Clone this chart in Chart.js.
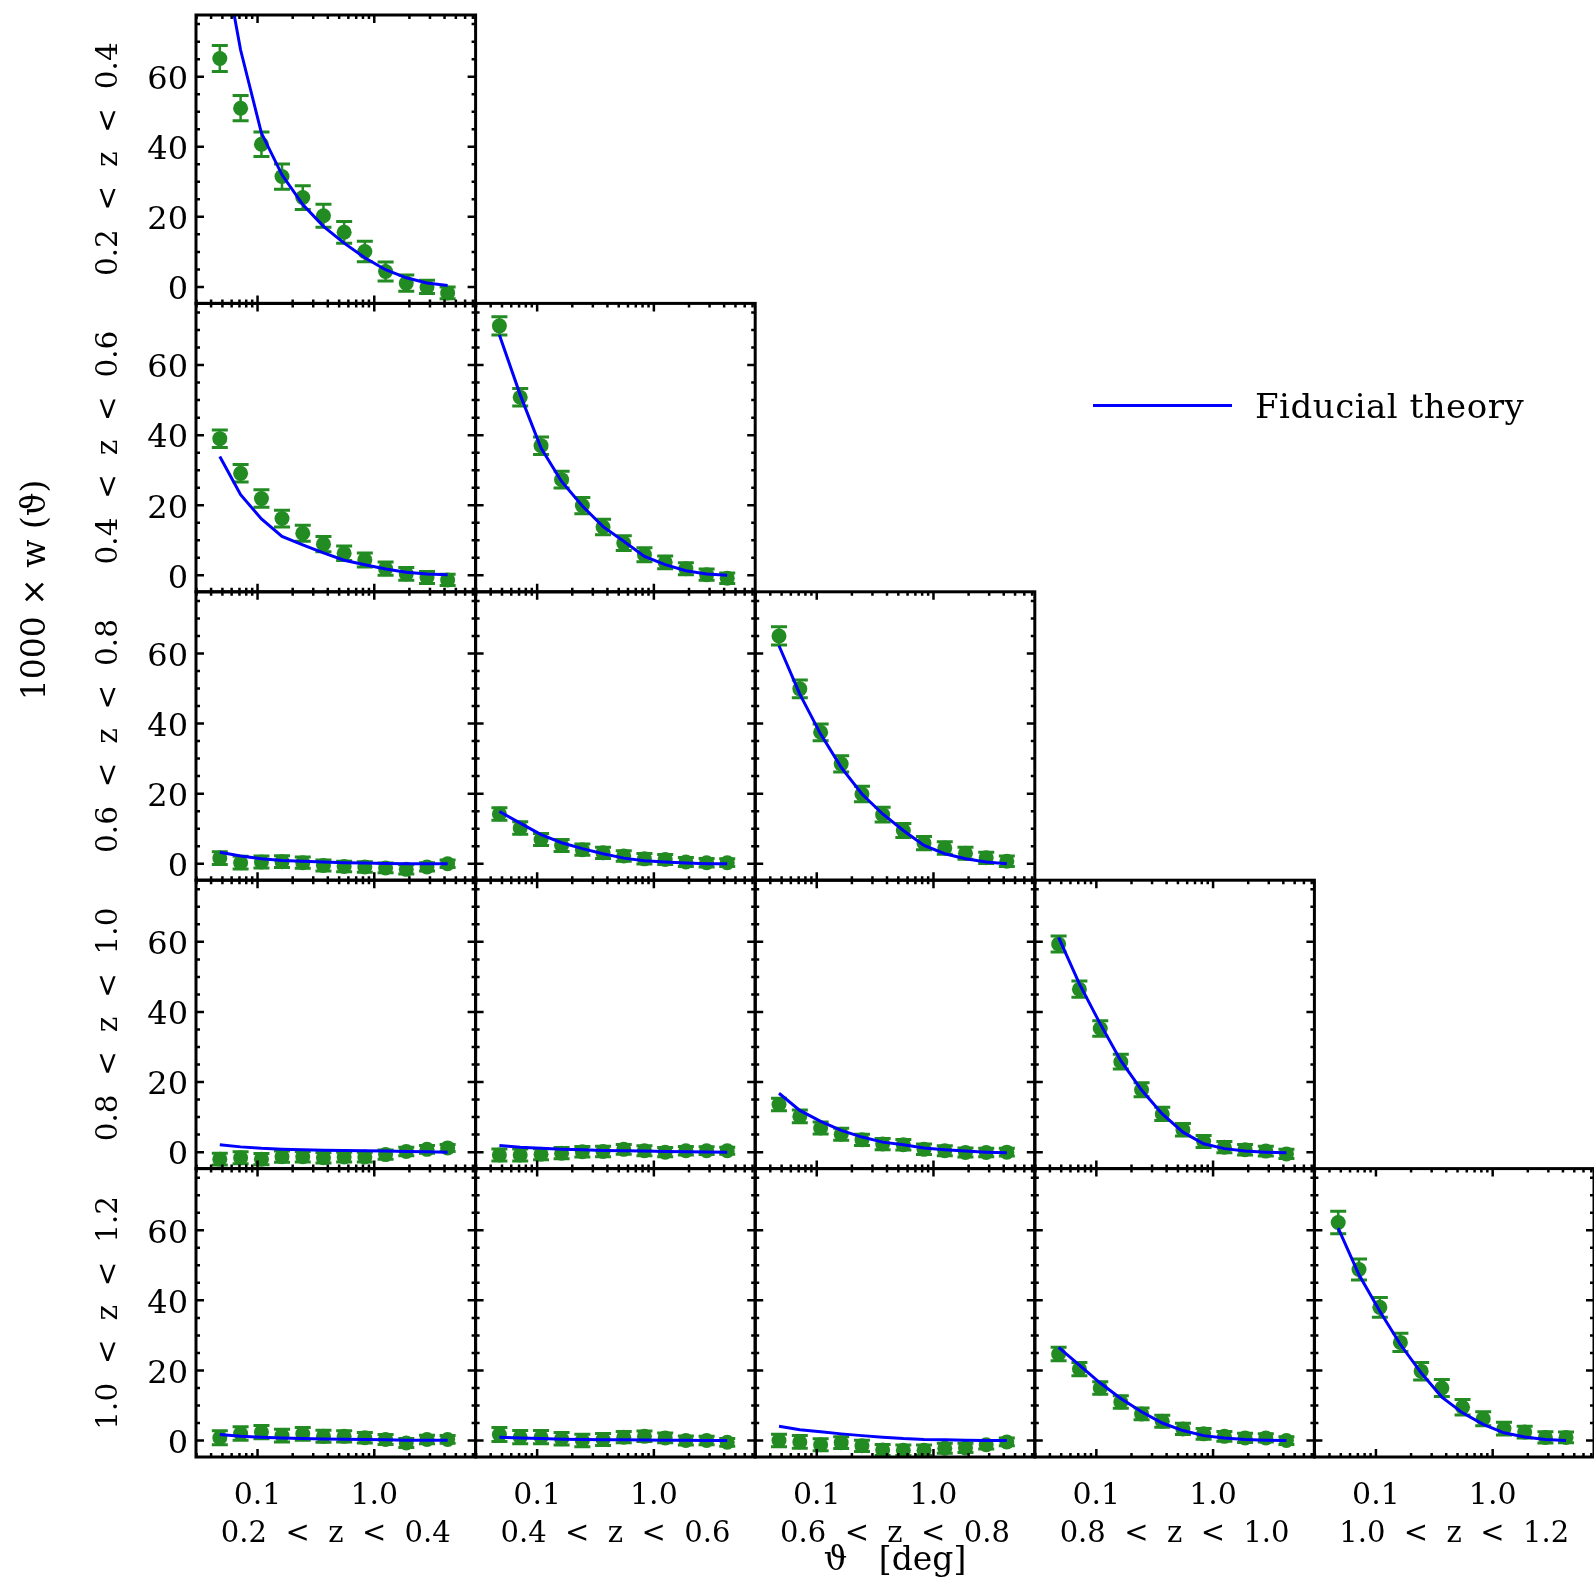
<!DOCTYPE html>
<html>
<head>
<meta charset="utf-8">
<title>w(theta) tomographic bins</title>
<script src="https://cdn.jsdelivr.net/npm/chart.js@4.4.1/dist/chart.umd.min.js"></script>
<style>
  html, body { margin: 0; padding: 0; background: #fff; }
  canvas { display: block; }
</style>
</head>
<body>
<canvas id="wthetaChart" width="1594" height="1578"></canvas>
<script>
// angular bin centres [deg]
const theta = [0.0475, 0.0716, 0.108, 0.162, 0.244, 0.367, 0.552, 0.830, 1.25, 1.88, 2.83, 4.25];
const zBins = ["0.2  <  z  <  0.4", "0.4  <  z  <  0.6", "0.6  <  z  <  0.8", "0.8  <  z  <  1.0", "1.0  <  z  <  1.2"];

const xTickValues = [0.1, 1.0];
const xTickLabels = ["0.1", "1.0"];
const xMinorTicks = [0.03, 0.04, 0.05, 0.06, 0.07, 0.08, 0.09, 0.2, 0.3, 0.4, 0.5, 0.6, 0.7, 0.8, 0.9, 2, 3, 4, 5, 6, 7];
const yTickValues = [0, 20, 40, 60];
const yMinorTicks = [5, 10, 15, 25, 30, 35, 45, 50, 55, 65, 70, 75];

// 1000 x w(theta): measured points (w), errors (e), fiducial theory (t); row index first, column second
const w00 = [65.2, 51.0, 40.7, 31.5, 25.5, 20.3, 15.6, 10.1, 4.4, 1.1, 0.0, -1.7];
const e00 = [3.7, 3.6, 3.5, 3.6, 3.4, 3.3, 3.1, 2.9, 2.7, 2.3, 1.9, 1.7];
const t00 = [100, 67.6, 43.9, 32.0, 23.5, 17.3, 12.5, 8.3, 4.9, 2.6, 1.1, 0.4];

const w10 = [39.0, 29.1, 21.9, 16.2, 12.0, 8.9, 6.3, 4.4, 1.9, 0.4, -0.6, -1.3];
const e10 = [2.5, 2.5, 2.5, 2.4, 2.3, 2.2, 2.1, 2.0, 1.9, 1.8, 1.7, 1.6];
const t10 = [33.9, 23.0, 16.1, 11.1, 8.7, 6.4, 4.3, 3.0, 1.8, 0.9, 0.4, 0.2];

const w11 = [71.2, 50.8, 37.0, 27.3, 19.9, 13.8, 9.2, 5.9, 3.7, 1.9, 0.2, -0.8];
const e11 = [2.6, 2.5, 2.5, 2.4, 2.3, 2.2, 2.1, 2.0, 1.8, 1.7, 1.6, 1.5];
const t11 = [68.6, 51.5, 36.3, 26.8, 19.8, 13.9, 9.7, 5.4, 3.05, 1.3, 0.4, 0.0];

const w20 = [1.6, 0.3, 0.5, 0.6, 0.3, -0.5, -0.8, -0.9, -1.2, -1.6, -0.9, 0.0];
const e20 = [1.8, 1.8, 1.7, 1.7, 1.6, 1.6, 1.5, 1.5, 1.4, 1.3, 1.2, 1.1];
const t20 = [3.3, 2.2, 1.4, 0.95, 0.7, 0.5, 0.3, 0.2, 0.1, 0.0, 0.0, 0.0];

const w21 = [14.2, 10.2, 6.9, 5.2, 4.0, 3.1, 2.2, 1.4, 1.2, 0.5, 0.3, 0.3];
const e21 = [1.8, 1.8, 1.7, 1.7, 1.6, 1.6, 1.5, 1.5, 1.4, 1.3, 1.2, 1.1];
const t21 = [14.9, 11.6, 8.3, 6.0, 4.3, 2.85, 1.6, 0.85, 0.5, 0.2, 0.0, 0.0];

const w22 = [65.0, 49.9, 37.5, 28.5, 19.9, 14.0, 9.5, 5.9, 4.5, 3.0, 1.7, 0.7];
const e22 = [2.6, 2.5, 2.4, 2.3, 2.2, 2.1, 2.0, 1.9, 1.8, 1.7, 1.6, 1.5];
const t22 = [62.2, 48.4, 37.0, 27.5, 19.9, 14.2, 9.5, 5.2, 2.85, 1.4, 0.5, 0.0];

const w30 = [-2.0, -1.6, -2.0, -1.3, -1.3, -1.6, -1.4, -1.4, -0.7, 0.2, 0.8, 1.2];
const e30 = [1.7, 1.7, 1.6, 1.6, 1.5, 1.5, 1.4, 1.4, 1.3, 1.2, 1.1, 1.0];
const t30 = [2.1, 1.5, 1.1, 0.85, 0.65, 0.55, 0.5, 0.4, 0.3, 0.2, 0.1, 0.0];

const w31 = [-0.8, -0.8, -0.6, -0.3, 0.1, 0.2, 0.8, 0.4, 0.0, 0.4, 0.4, 0.4];
const e31 = [1.7, 1.7, 1.6, 1.6, 1.5, 1.5, 1.4, 1.4, 1.3, 1.2, 1.1, 1.0];
const t31 = [1.9, 1.4, 1.1, 0.85, 0.65, 0.5, 0.4, 0.3, 0.2, 0.1, 0.05, 0.0];

const w32 = [13.6, 10.2, 6.9, 5.1, 3.5, 2.3, 2.1, 0.8, 0.4, -0.1, -0.1, 0.0];
const e32 = [1.8, 1.8, 1.7, 1.7, 1.6, 1.6, 1.5, 1.5, 1.4, 1.3, 1.2, 1.1];
const t32 = [16.8, 11.9, 8.8, 6.2, 4.3, 2.85, 2.1, 1.2, 0.7, 0.3, 0.0, -0.2];

const w33 = [59.4, 46.5, 35.3, 25.8, 17.8, 10.9, 6.4, 3.05, 1.4, 0.7, 0.3, -0.5];
const e33 = [2.3, 2.3, 2.2, 2.1, 2.0, 1.9, 1.8, 1.7, 1.6, 1.5, 1.4, 1.3];
const t33 = [61.3, 48.0, 36.6, 26.1, 17.7, 10.9, 5.7, 2.4, 1.0, 0.3, 0.0, -0.2];

const w40 = [0.8, 2.0, 2.4, 1.4, 1.9, 1.2, 1.2, 0.8, 0.3, -0.7, 0.3, 0.3];
const e40 = [2.0, 1.9, 1.9, 1.8, 1.8, 1.7, 1.6, 1.5, 1.4, 1.3, 1.2, 1.1];
const t40 = [1.7, 1.2, 0.95, 0.75, 0.55, 0.45, 0.4, 0.3, 0.2, 0.1, 0.1, 0.1];

const w41 = [1.7, 0.95, 0.95, 0.5, 0.0, 0.3, 0.95, 1.2, 0.75, 0.0, 0.0, -0.5];
const e41 = [2.0, 1.9, 1.9, 1.8, 1.8, 1.7, 1.6, 1.5, 1.4, 1.3, 1.2, 1.1];
const t41 = [0.95, 0.7, 0.55, 0.4, 0.3, 0.25, 0.2, 0.15, 0.1, 0.05, 0.0, 0.0];

const w42 = [0.0, -0.4, -1.2, -0.6, -1.5, -2.7, -2.8, -2.8, -2.2, -2.1, -1.2, -0.4];
const e42 = [1.8, 1.8, 1.7, 1.7, 1.6, 1.6, 1.5, 1.5, 1.4, 1.3, 1.2, 1.1];
const t42 = [4.1, 3.1, 2.5, 1.9, 1.4, 0.95, 0.55, 0.3, 0.2, 0.1, 0.0, 0.0];

const w43 = [24.7, 20.4, 15.0, 11.0, 7.6, 5.5, 3.3, 1.9, 1.2, 0.75, 0.75, 0.0];
const e43 = [1.9, 1.9, 1.8, 1.8, 1.7, 1.7, 1.6, 1.5, 1.4, 1.3, 1.2, 1.1];
const t43 = [26.6, 21.5, 16.4, 12.0, 8.2, 5.0, 2.85, 1.4, 0.75, 0.3, 0.1, 0.0];

const w44 = [62.2, 48.8, 38.0, 28.0, 19.8, 15.0, 9.5, 6.2, 3.4, 2.4, 0.9, 0.9];
const e44 = [3.2, 3.0, 2.8, 2.6, 2.5, 2.4, 2.2, 2.0, 1.8, 1.7, 1.6, 1.5];
const t44 = [60.6, 47.3, 36.9, 27.4, 19.3, 12.4, 7.9, 4.6, 2.2, 1.0, 0.3, 0.0];

const panels = [
  [0, 0, w00, e00, t00],
  [1, 0, w10, e10, t10], [1, 1, w11, e11, t11],
  [2, 0, w20, e20, t20], [2, 1, w21, e21, t21], [2, 2, w22, e22, t22],
  [3, 0, w30, e30, t30], [3, 1, w31, e31, t31], [3, 2, w32, e32, t32], [3, 3, w33, e33, t33],
  [4, 0, w40, e40, t40], [4, 1, w41, e41, t41], [4, 2, w42, e42, t42], [4, 3, w43, e43, t43], [4, 4, w44, e44, t44]
];

const GREEN = "#228b22";
const BLUE = "#0000ff";
const FONT = "'DejaVu Serif', serif";
Chart.defaults.font.family = FONT;
Chart.defaults.color = "#000";

const datasets = [];
panels.forEach(([r, c, w, e, t]) => {
  datasets.push({
    label: "theory " + r + c,
    data: theta.map((x, i) => ({ x: x, y: t[i] })),
    xAxisID: "x" + c, yAxisID: "y" + r,
    borderColor: BLUE, borderWidth: 3, pointRadius: 0, tension: 0, fill: false, order: 0
  });
  datasets.push({
    label: "data " + r + c,
    data: theta.map((x, i) => ({ x: x, y: w[i] })),
    errors: e,
    xAxisID: "x" + c, yAxisID: "y" + r,
    showLine: false, pointRadius: 7.5, pointBackgroundColor: GREEN, pointBorderColor: GREEN,
    pointBorderWidth: 0, order: 1
  });
});

const scales = {};
zBins.forEach((label, c) => {
  scales["x" + c] = {
    type: "logarithmic", position: "bottom", stack: "cols", weight: c,
    min: 0.0297, max: 7.38,
    grid: { display: false, drawTicks: false }, border: { display: false },
    ticks: {
      autoSkip: false, maxRotation: 0, padding: 21, font: { size: 30 },
      callback: (v) => { const i = xTickValues.indexOf(v); return i >= 0 ? xTickLabels[i] : ""; }
    },
    afterBuildTicks: (s) => { s.ticks = xTickValues.map(v => ({ value: v })); },
    afterFit: (s) => { s.height = 121; s.paddingLeft = 0; s.paddingRight = 0; },
    title: { display: true, text: label, font: { size: 29 }, padding: { top: 0, bottom: 26 } }
  };
});
zBins.forEach((label, r) => {
  scales["y" + r] = {
    type: "linear", position: "left", stack: "rows", weight: 10 - r,
    min: -4.7, max: 77.6,
    grid: { display: false, drawTicks: false }, border: { display: false },
    ticks: { padding: 8, labelOffset: 4, font: { size: 32 }, callback: (v) => String(v) },
    afterBuildTicks: (s) => { s.ticks = yTickValues.map(v => ({ value: v })); },
    afterFit: (s) => { s.width = 196; s.paddingTop = 0; s.paddingBottom = 0; },
    title: { display: true, text: label, font: { size: 29.5 }, padding: { top: 92, bottom: 0 } }
  };
});

const panelPlugin = {
  id: "panels",
  beforeDatasetsDraw(chart) {
    const ctx = chart.ctx;
    ctx.save();
    ctx.strokeStyle = GREEN;
    chart.data.datasets.forEach((ds) => {
      if (!ds.errors) return;
      const xs = chart.scales[ds.xAxisID], ys = chart.scales[ds.yAxisID];
      ds.data.forEach((p, i) => {
        const px = xs.getPixelForValue(p.x);
        const lo = ys.getPixelForValue(p.y - ds.errors[i]);
        const hi = ys.getPixelForValue(p.y + ds.errors[i]);
        ctx.lineWidth = 2.5;
        ctx.beginPath();
        ctx.moveTo(px, lo); ctx.lineTo(px, hi);
        ctx.stroke();
        ctx.lineWidth = 3;
        ctx.beginPath();
        ctx.moveTo(px - 8, lo); ctx.lineTo(px + 8, lo);
        ctx.moveTo(px - 8, hi); ctx.lineTo(px + 8, hi);
        ctx.stroke();
      });
    });
    ctx.restore();
  },
  afterDraw(chart) {
    const ctx = chart.ctx;
    ctx.save();
    ctx.strokeStyle = "#000";
    panels.forEach(([r, c]) => {
      const xs = chart.scales["x" + c], ys = chart.scales["y" + r];
      const L = xs.left, R = xs.right, T = ys.top, B = ys.bottom;
      ctx.lineWidth = 2.5;
      ctx.beginPath();
      const tick = (vals, len) => {
        vals.forEach(v => {
          const py = ys.getPixelForValue(v);
          ctx.moveTo(L, py); ctx.lineTo(L + len, py);
          ctx.moveTo(R, py); ctx.lineTo(R - len, py);
        });
      };
      const xtick = (vals, len) => {
        vals.forEach(v => {
          const px = xs.getPixelForValue(v);
          ctx.moveTo(px, B); ctx.lineTo(px, B - len);
          ctx.moveTo(px, T); ctx.lineTo(px, T + len);
        });
      };
      tick(yTickValues, 8); tick(yMinorTicks, 4);
      xtick(xTickValues, 8); xtick(xMinorTicks, 4);
      ctx.stroke();
      ctx.lineWidth = 3;
      ctx.strokeRect(L, T, R - L, B - T);
    });

    // legend
    ctx.strokeStyle = BLUE;
    ctx.lineWidth = 3;
    ctx.beginPath();
    ctx.moveTo(1093, 405.5); ctx.lineTo(1232, 405.5);
    ctx.stroke();
    ctx.fillStyle = "#000";
    ctx.font = "34px " + FONT;
    ctx.textAlign = "left";
    ctx.textBaseline = "alphabetic";
    ctx.letterSpacing = "0.5px";
    ctx.fillText("Fiducial theory", 1255, 418);
    ctx.letterSpacing = "0px";

    // global axis labels
    ctx.font = "33px " + FONT;
    ctx.textAlign = "center";
    ctx.fillText("ϑ   [deg]", 895, 1570);
    ctx.translate(45, 590);
    ctx.rotate(-Math.PI / 2);
    ctx.fillText("1000 × w (ϑ)", 0, 0);
    ctx.restore();
  }
};

new Chart(document.getElementById("wthetaChart"), {
  type: "line",
  data: { datasets: datasets },
  options: {
    responsive: false,
    animation: false,
    layout: { autoPadding: false, padding: { top: 15, left: 0, right: 0, bottom: 0 } },
    plugins: { legend: { display: false }, tooltip: { enabled: false }, title: { display: false } },
    scales: scales
  },
  plugins: [panelPlugin]
});
</script>
</body>
</html>
